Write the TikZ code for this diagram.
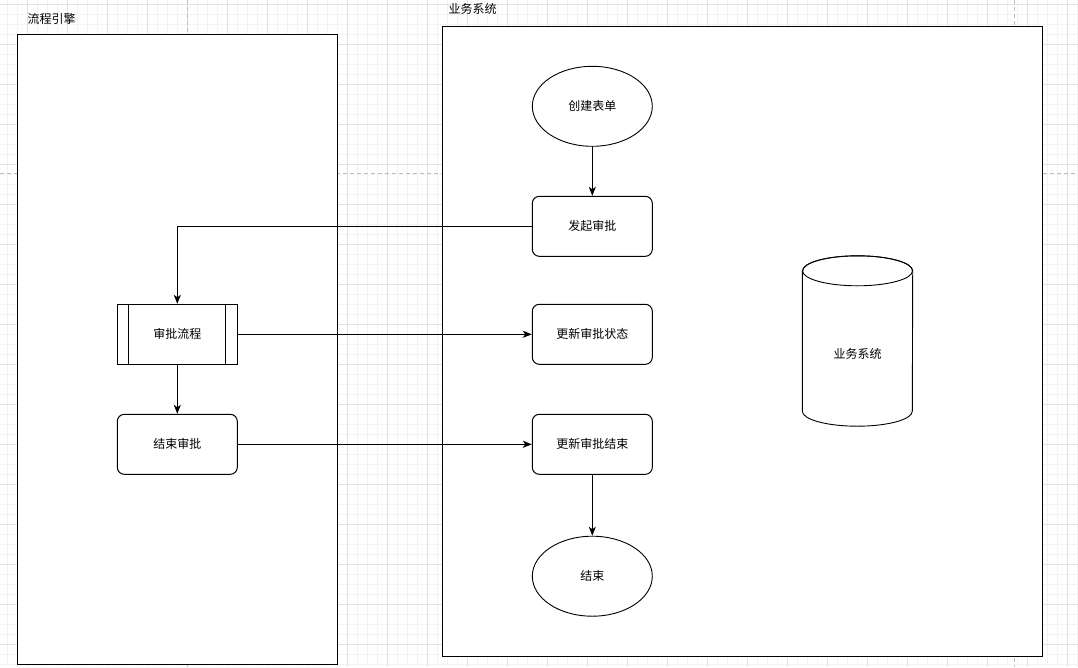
\documentclass[tikz,border=0pt]{standalone}
\usepackage{fontspec}
\setmainfont{Noto Sans CJK SC}
\usetikzlibrary{arrows.meta,calc}
\definecolor{gridminor}{HTML}{F3F3F3}
\definecolor{gridmajor}{HTML}{E2E2E2}
\definecolor{pageline}{HTML}{BDBDBD}
\tikzset{
  lane/.style={draw=black, line width=1.1pt, fill=white, minimum width=320pt, minimum height=630pt, inner sep=0pt},
  lanetitle/.style={anchor=west, inner sep=0pt, font=\fontsize{12pt}{14pt}\selectfont},
  box/.style={draw=black, line width=1pt, fill=white, rounded corners=7pt, minimum width=120pt, minimum height=60pt, inner sep=0pt, font=\fontsize{12pt}{14pt}\selectfont},
  subproc/.style={draw=black, line width=1pt, fill=white, minimum width=120pt, minimum height=60pt, inner sep=0pt, font=\fontsize{12pt}{14pt}\selectfont},
  term/.style={draw=black, line width=0.9pt, fill=white, ellipse, minimum width=120pt, minimum height=80pt, inner sep=0pt, font=\fontsize{12pt}{14pt}\selectfont},
  dbbox/.style={minimum width=110pt, minimum height=170pt, inner sep=0pt, font=\fontsize{12pt}{14pt}\selectfont},
  arr/.style={draw=black, line width=1pt, -{Stealth[length=9pt,width=7pt,inset=2.5pt]}},
}
\usetikzlibrary{shapes.geometric}
\begin{document}
\begin{tikzpicture}[x=1pt,y=-1pt]
\useasboundingbox (0,0) rectangle (1078,667);
\fill[white] (0,0) rectangle (1078,667);
% grid
\foreach \gx in {7.3,17.3,...,1078} {\draw[gridminor, line width=0.8pt] (\gx,0) -- (\gx,667);}
\foreach \gy in {4,14,...,667} {\draw[gridminor, line width=0.8pt] (0,\gy) -- (1078,\gy);}
\foreach \gx in {27.3,67.3,...,1078} {\draw[gridmajor, line width=0.8pt] (\gx,0) -- (\gx,667);}
\foreach \gy in {4,44,...,667} {\draw[gridmajor, line width=0.8pt] (0,\gy) -- (1078,\gy);}
\draw[pageline, line width=0.8pt, dash pattern=on 4pt off 3pt] (187.3,0) -- (187.3,667);
\draw[pageline, line width=0.8pt, dash pattern=on 4pt off 3pt] (1014.3,0) -- (1014.3,667);
\draw[pageline, line width=0.8pt, dash pattern=on 4pt off 3pt] (0,173.3) -- (1078,173.3);

% lanes
\node[lane] (laneA) at (177.5,349.2) {};
\node[lane, minimum width=600pt] (laneB) at (742.3,341.3) {};
\node[lanetitle] (titleA) at (27.5,19) {流程引擎};
\node[lanetitle] (titleB) at (448.5,9) {业务系统};

% business system
\node[term] (create) at (592.3,106.3) {创建表单};
\node[box] (start) at (592.3,226.3) {发起审批};
\node[box] (upd) at (592.3,334.3) {更新审批状态};
\node[box] (updend) at (592.3,444.3) {更新审批结束};
\node[term] (finish) at (592.3,576.2) {结束};

% database cylinder
\node[dbbox] (db) at (857.5,341) {};
\filldraw[fill=white, draw=black, line width=0.9pt]
  ($(db.north west)+(0,15)$) -- ($(db.south west)+(0,-15)$)
  arc[start angle=180, end angle=360, x radius=55pt, y radius=15pt]
  -- ($(db.north east)+(0,15)$)
  arc[start angle=0, end angle=180, x radius=55pt, y radius=15pt] -- cycle;
\draw[black, line width=0.9pt] ($(db.north)+(0,15)$) ellipse [x radius=55pt, y radius=15pt];
\node[font=\fontsize{12pt}{14pt}\selectfont, inner sep=0pt] (dblabel) at (857.5,354) {业务系统};

% workflow engine
\node[subproc] (proc) at (177.3,334.3) {审批流程};
\draw[black, line width=1pt] ($(proc.north west)+(12,0)$) -- ($(proc.south west)+(12,0)$);
\draw[black, line width=1pt] ($(proc.north east)+(-12,0)$) -- ($(proc.south east)+(-12,0)$);
\node[box] (endap) at (177.3,444.3) {结束审批};

% connectors
\draw[arr] (create) -- (start);
\draw[arr] (start.west) -| (proc.north);
\draw[arr] (proc.east) -- (upd.west);
\draw[arr] (proc) -- (endap);
\draw[arr] (endap.east) -- (updend.west);
\draw[arr] (updend) -- (finish);
\end{tikzpicture}
\end{document}
